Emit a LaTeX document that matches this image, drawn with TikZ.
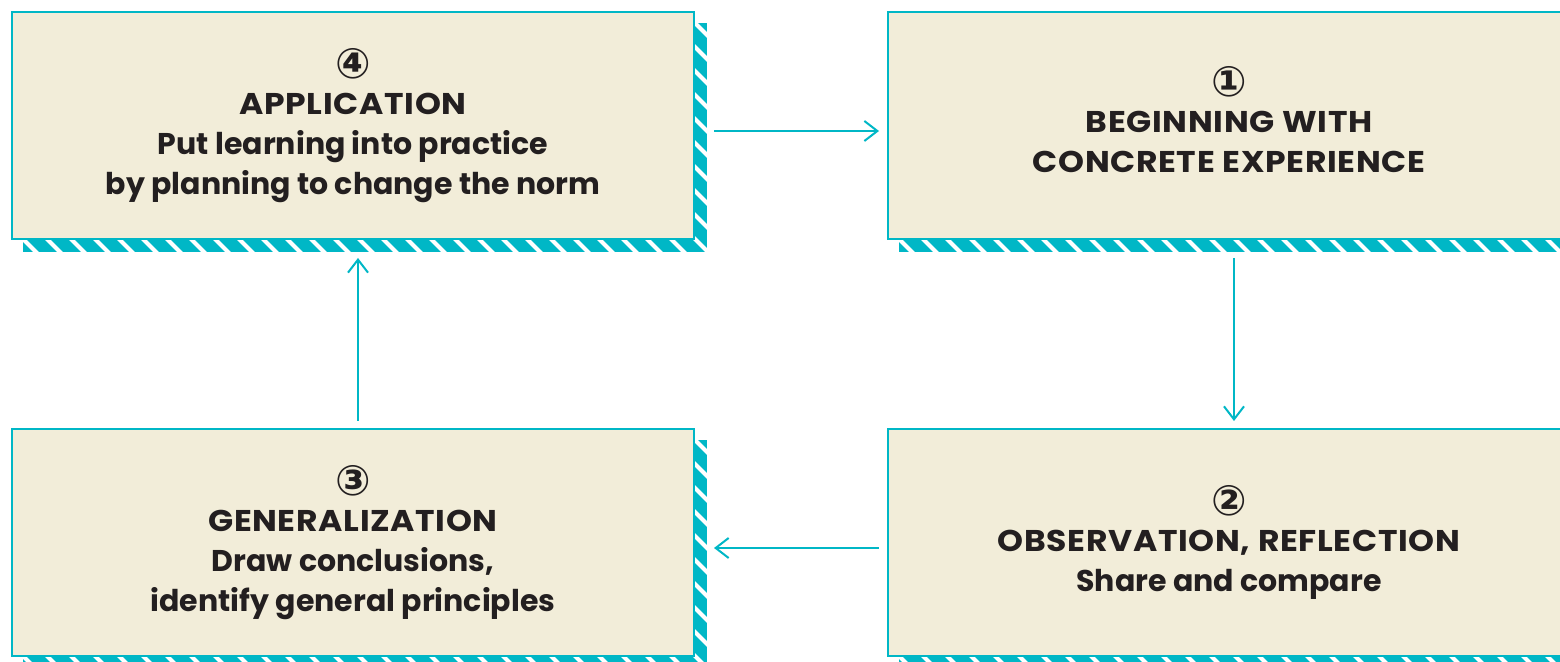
\documentclass[tikz,border=0pt]{standalone}
\usepackage{fontspec}
\setmainfont{Poppins}
\newfontfamily\numfont{DejaVu Sans}
\usetikzlibrary{calc,arrows.meta,backgrounds}
\definecolor{tealc}{HTML}{00B7C6}
\definecolor{boxfill}{HTML}{F2EDD9}
\definecolor{ink}{HTML}{231F20}

\begin{document}
\begin{tikzpicture}[x=0.5pt,y=-0.5pt]
                      \tikzstyle{stage}=[draw=tealc,line width=1pt,fill=boxfill,anchor=north west,minimum width=341pt,minimum height=113.5pt,inner sep=0pt,align=center,text=ink,font=\bfseries\fontsize{15}{20}\selectfont]
                      \tikzstyle{flow}=[draw=tealc,line width=1pt,-{Straight Barb[length=6.5pt,width=10pt]}]
                      \newcommand{\stepno}[1]{{\numfont\bfseries\fontsize{21}{20}\selectfont #1}\\[-2pt]}
                      \newcommand{\caps}[1]{\scalebox{1.1}[1]{\addfontfeature{LetterSpace=2}#1}}
                      \useasboundingbox (0,0) rectangle (1560,662);
                      \clip (0,0) rectangle (1560,662);
                      \node[stage] (app) at (11,11) {\stepno{④}\caps{APPLICATION}\\Put learning into practice\\by planning to change the norm};
                      \node[stage,text depth=6pt] (beg) at (887,11) {\stepno{①}\caps{BEGINNING WITH}\\\caps{CONCRETE EXPERIENCE}};
                      \node[stage] (obs) at (887,428) {\stepno{②}\caps{OBSERVATION, REFLECTION}\\Share and compare};
                      \node[stage] (gen) at (11,428) {\stepno{③}\caps{GENERALIZATION}\\Draw conclusions,\\identify general principles};
                      \begin{scope}[on background layer]
                        \foreach \n in {app,beg,obs,gen} {
                          \begin{scope}
                            \clip ($(\n.north west)+(12,12)$) rectangle ($(\n.south east)+(12,12)$);
                            \fill[tealc] ($(\n.north west)+(12,12)$) rectangle ($(\n.south east)+(12,12)$);
                            \foreach \k in {-12,...,32}
                              \draw[white,line width=2pt] ($(\n.north west)+(12+24*\k,12)$) -- ++(300,300);
                          \end{scope}
                        }
                      \end{scope}
                      \draw[flow] ([xshift=9.5pt,yshift=-2.75pt]app.east) -- ([xshift=-4pt,yshift=-2.75pt]beg.west);
                      \draw[flow] ([xshift=2.5pt,yshift=-9pt]beg.south) -- ([xshift=2.5pt,yshift=3.5pt]obs.north);
                      \draw[flow] ([xshift=-4pt,yshift=-2.75pt]obs.west) -- ([xshift=9.5pt,yshift=-2.75pt]gen.east);
                      \draw[flow] ([xshift=2.5pt,yshift=3.5pt]gen.north) -- ([xshift=2.5pt,yshift=-9pt]app.south);
                  \end{tikzpicture}
\end{document}
